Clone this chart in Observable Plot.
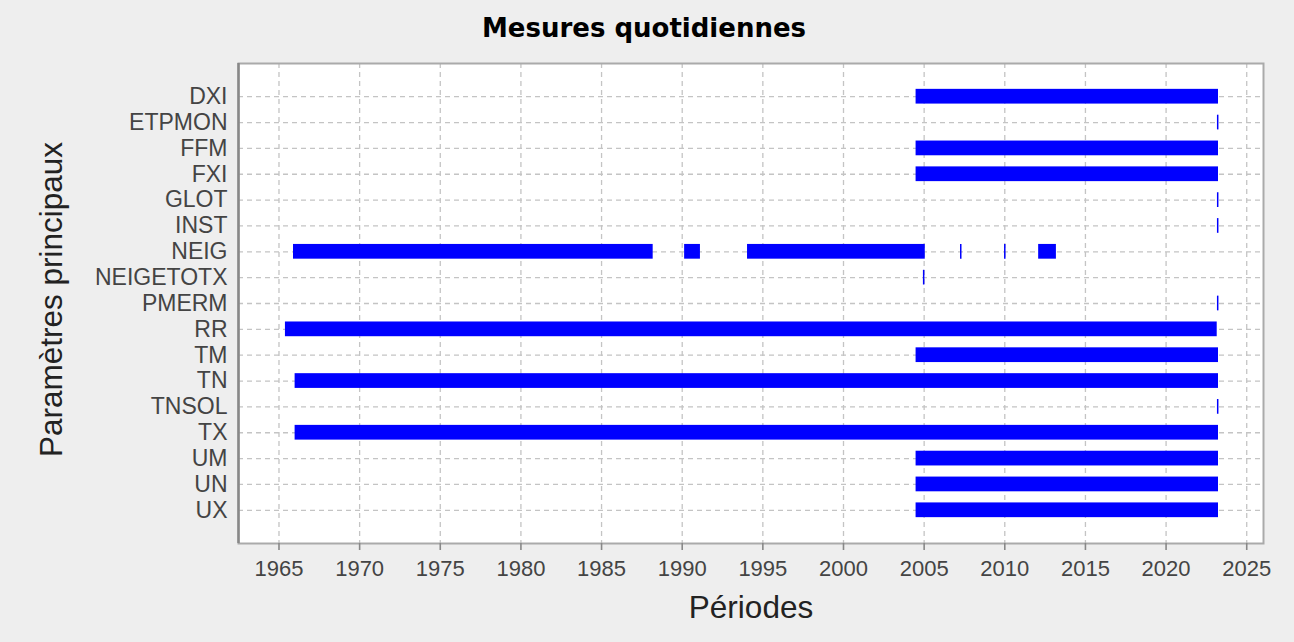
<!DOCTYPE html>
<html>
<head>
<meta charset="utf-8">
<script src="https://cdn.jsdelivr.net/npm/d3@7"></script>
<script src="https://cdn.jsdelivr.net/npm/@observablehq/plot@0.6"></script>
<style>
html, body { margin: 0; padding: 0; background: #eeeeee; }
#wrap { position: relative; width: 1294px; height: 642px; background: #eeeeee; overflow: hidden; }
#title { position: absolute; left: 0; top: 15px; width: 1288px; text-align: center;
  font-family: "DejaVu Sans", sans-serif; font-weight: bold; font-size: 26px; line-height: 26px; color: #000; }
#chart svg { display: block; }
</style>
</head>
<body>
<div id="wrap">
  <div id="chart"></div>
  <div id="title">Mesures quotidiennes</div>
</div>
<script>
// Categories (top to bottom)
const parametres = ["DXI", "ETPMON", "FFM", "FXI", "GLOT", "INST", "NEIG", "NEIGETOTX", "PMERM",
  "RR", "TM", "TN", "TNSOL", "TX", "UM", "UN", "UX"];

// Measurement periods (decimal years), one entry per segment
const periodeParam = ["DXI", "ETPMON", "FFM", "FXI", "GLOT", "INST",
  "NEIG", "NEIG", "NEIG", "NEIG", "NEIG", "NEIG",
  "NEIGETOTX", "PMERM", "RR", "TM", "TN", "TNSOL", "TX", "UM", "UN", "UX"];
const periodeDebut = [2004.5, 2023.2, 2004.5, 2004.5, 2023.2, 2023.2,
  1965.9, 1990.15, 1994.05, 2007.27, 2010.0, 2012.1,
  2004.97, 2023.2, 1965.4, 2004.5, 1966.0, 2023.2, 1966.0, 2004.5, 2004.5, 2004.5];
const periodeFin = [2023.25, 2023.2, 2023.25, 2023.25, 2023.2, 2023.2,
  1988.2, 1991.13, 2005.07, 2007.27, 2010.0, 2013.2,
  2004.97, 2023.2, 2023.17, 2023.25, 2023.25, 2023.2, 2023.25, 2023.25, 2023.25, 2023.25];

// X axis
const anneesTicks = [1965, 1970, 1975, 1980, 1985, 1990, 1995, 2000, 2005, 2010, 2015, 2020, 2025];
const xDomaine = [1962.49, 2026.04];

const segments = periodeParam.map((p, i) => ({param: p, debut: periodeDebut[i], fin: periodeFin[i]}));
const courts = segments.filter(d => d.fin - d.debut < 0.05);

const blue = "#0000ff";
const gridStyle = {stroke: "#c4c4c4", strokeOpacity: 1, strokeWidth: 1.3, strokeDasharray: "5,4"};

const chart = Plot.plot({
  width: 1294,
  height: 642,
  marginLeft: 238,
  marginRight: 31,
  marginTop: 63,
  marginBottom: 99,
  style: {fontFamily: "'Liberation Sans', Arial, sans-serif", background: "transparent", overflow: "visible"},
  x: {domain: xDomaine},
  y: {domain: parametres, paddingInner: 0.43, paddingOuter: 1.0, round: false},
  marks: [
    Plot.frame({fill: "white", stroke: null}),
    Plot.gridX(anneesTicks, gridStyle),
    Plot.gridY(parametres, gridStyle),
    Plot.barX(segments, {y: "param", x1: "debut", x2: "fin", fill: blue}),
    Plot.tickX(courts, {y: "param", x: "debut", stroke: blue, strokeWidth: 1.5}),
    Plot.frame({stroke: "#aaaaaa", strokeWidth: 2}),
    Plot.ruleX([xDomaine[0]], {stroke: "#888888", strokeWidth: 2.5}),
    Plot.axisX(anneesTicks, {tickSize: 7, tickPadding: 10, fontSize: 22, fill: "#444444", stroke: "#888888", strokeWidth: 1.6, label: null, tickFormat: d => String(d)}),
    Plot.axisY({tickSize: 0, tickPadding: 11, fontSize: 23, fill: "#444444", label: null}),
    Plot.text(["Périodes"], {frameAnchor: "bottom", dy: 74, fontSize: 31.5, fill: "#222222"}),
    Plot.text(["Paramètres principaux"], {frameAnchor: "left", textAnchor: "middle", dx: -187, dy: -4, rotate: -90, fontSize: 31.5, fill: "#222222"})
  ]
});
document.getElementById("chart").appendChild(chart);
</script>
</body>
</html>
